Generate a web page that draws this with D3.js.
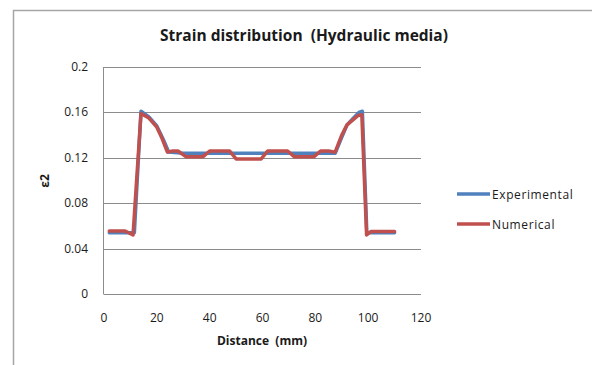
<!DOCTYPE html>
<html>
<head>
<meta charset="utf-8">
<script src="https://cdn.jsdelivr.net/npm/d3@7"></script>
<style>
  body { margin: 0; background: #fff; }
  text { font-family: "Open Sans", Lato, sans-serif; fill: #1a1a1a; white-space: pre; }
</style>
</head>
<body>
<div id="chart"></div>
<script>
// data
const expX = [2, 5, 8, 11.5, 14, 17, 20, 22.5, 24.5, 30, 40, 50, 60, 70, 80, 87.5, 90, 92, 94, 96.5, 97.8, 99.5, 102, 106, 110]
const expY = [0.054, 0.054, 0.054, 0.054, 0.161, 0.156, 0.148, 0.136, 0.125, 0.124, 0.124, 0.124, 0.124, 0.124, 0.124, 0.124, 0.138, 0.149, 0.154, 0.16, 0.161, 0.054, 0.054, 0.054, 0.054]

const numX = [2, 5, 8, 11, 14, 17, 20, 22, 24, 26, 28, 31, 34, 37.5, 40, 44, 47.5, 50, 55, 59.5, 62, 66, 69.5, 72, 76, 79.5, 82, 85, 87.5, 90, 92, 94, 96, 97.6, 99.4, 101, 105, 110]
const numY = [0.0555, 0.0555, 0.0555, 0.052, 0.159, 0.155, 0.147, 0.137, 0.125, 0.126, 0.126, 0.121, 0.121, 0.121, 0.126, 0.126, 0.126, 0.119, 0.119, 0.119, 0.126, 0.126, 0.126, 0.121, 0.121, 0.121, 0.126, 0.126, 0.125, 0.14, 0.149, 0.153, 0.157, 0.158, 0.052, 0.055, 0.055, 0.055]

const xTicks = [0, 20, 40, 60, 80, 100, 120]
const yTicks = [0, 0.04, 0.08, 0.12, 0.16, 0.2]
const seriesNames = ['Experimental', 'Numerical']
const seriesColors = ['#4f81bd', '#c0504d']

const width = 592, height = 365
const margin = {left: 104, right: 171, top: 67, bottom: 71}

let svg = d3.select('#chart').append('svg')
    .attr('width', width)
    .attr('height', height)

// outer frame (only top and left edges visible)
svg.append('path')
    .attr('d', `M13.5,${height} V10.5 H${width}`)
    .attr('fill', 'none')
    .attr('stroke', '#a6a6a6')
    .attr('stroke-width', 1.5)

let x = d3.scaleLinear().domain([0, 120]).range([margin.left, width - margin.right])
let y = d3.scaleLinear().domain([0, 0.2]).range([height - margin.bottom, margin.top])

// gridlines
svg.append('g')
    .selectAll('line')
    .data(yTicks)
    .join('line')
    .attr('x1', x(0))
    .attr('x2', x(120))
    .attr('y1', d => Math.round(y(d)) + 0.5)
    .attr('y2', d => Math.round(y(d)) + 0.5)
    .attr('stroke', '#8c8c8c')
    .attr('stroke-width', 1)

// y axis line
svg.append('line')
    .attr('x1', x(0) - 0.5).attr('x2', x(0) - 0.5)
    .attr('y1', y(0.2)).attr('y2', y(0) + 0.5)
    .attr('stroke', '#8c8c8c')

// tick labels
svg.append('g')
    .attr('font-size', 12)
    .attr('text-anchor', 'end')
    .selectAll('text')
    .data(yTicks)
    .join('text')
    .attr('x', 88)
    .attr('y', d => y(d) + 4)
    .text(d => d === 0 ? '0' : d3.format('~g')(d))

svg.append('g')
    .attr('font-size', 12)
    .attr('text-anchor', 'middle')
    .selectAll('text')
    .data(xTicks)
    .join('text')
    .attr('x', d => x(d))
    .attr('y', 322)
    .text(d => d)

// titles
svg.append('text')
    .attr('x', 304).attr('y', 41)
    .attr('text-anchor', 'middle')
    .attr('font-size', 15.5)
    .attr('font-weight', 'bold')
    .text('Strain distribution  (Hydraulic media)')

svg.append('text')
    .attr('x', 262).attr('y', 345)
    .attr('text-anchor', 'middle')
    .attr('font-size', 12)
    .attr('font-weight', 'bold')
    .text('Distance  (mm)')

svg.append('text')
    .attr('transform', 'translate(49,181) rotate(-90)')
    .attr('text-anchor', 'middle')
    .attr('font-size', 12)
    .attr('font-weight', 'bold')
    .text('ε2')

// series lines
let line = d3.line()
    .x(d => x(d[0]))
    .y(d => y(d[1]))

let series = [
    d3.zip(expX, expY),
    d3.zip(numX, numY)
]

svg.append('g')
    .selectAll('path')
    .data(series)
    .join('path')
    .attr('d', line)
    .attr('fill', 'none')
    .attr('stroke', (d, i) => seriesColors[i])
    .attr('stroke-width', 3.5)
    .attr('stroke-linejoin', 'round')
    .attr('stroke-linecap', 'round')

// legend
let legend = svg.append('g')
    .selectAll('g')
    .data(seriesNames)
    .join('g')
    .attr('transform', (d, i) => `translate(457,${194 + i * 30})`)

legend.append('line')
    .attr('x1', 0).attr('x2', 33)
    .attr('stroke', (d, i) => seriesColors[i])
    .attr('stroke-width', 3.5)

legend.append('text')
    .attr('x', 35).attr('y', 4.5)
    .attr('font-size', 12)
    .attr('letter-spacing', 0.6)
    .text(d => d)
</script>
</body>
</html>
